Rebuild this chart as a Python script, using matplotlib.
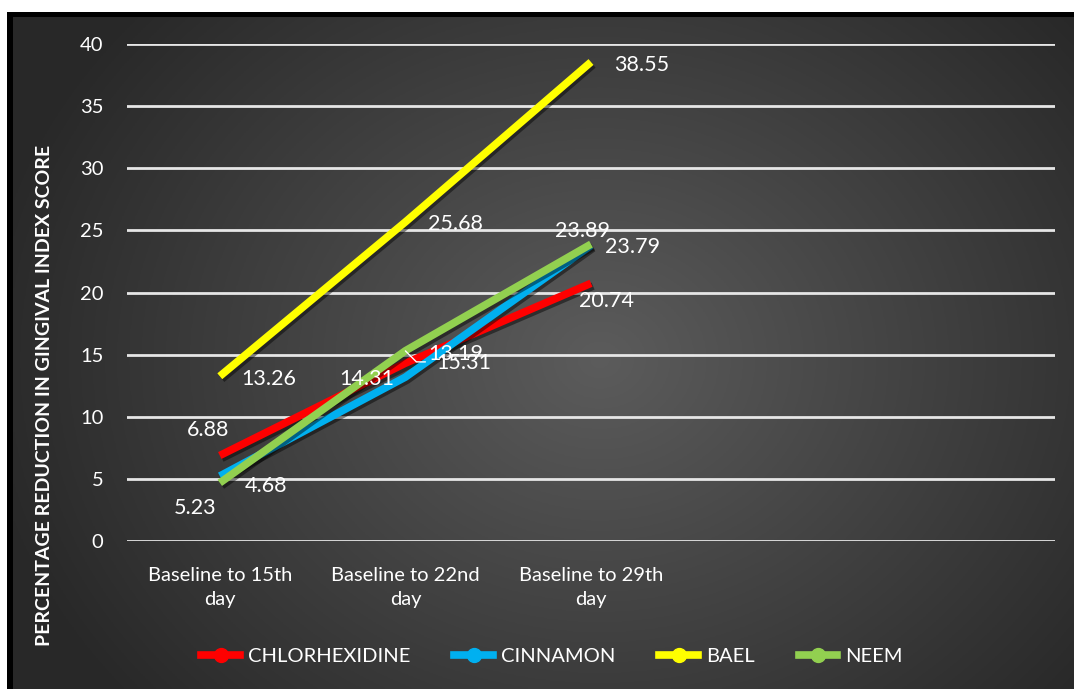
import numpy as np
import matplotlib.pyplot as plt
import matplotlib.patheffects as pe
from matplotlib.patches import Rectangle
from matplotlib.lines import Line2D

plt.rcParams['font.family'] = ['Lato', 'DejaVu Sans']

# --- data ---
categories = ['Baseline to 15th\nday', 'Baseline to 22nd\nday', 'Baseline to 29th\nday']
chlorhexidine = [6.88, 14.31, 20.74]
cinnamon = [5.23, 13.19, 23.79]
bael = [13.26, 25.68, 38.55]
neem = [4.68, 15.31, 23.89]

series = [
    ('CHLORHEXIDINE', chlorhexidine, '#ff0000'),
    ('CINNAMON', cinnamon, '#00b0f0'),
    ('BAEL', bael, '#ffff00'),
    ('NEEM', neem, '#92d050'),
]

# label offsets in pixels (dx right, dy up) per series / point
offsets = {
    'CHLORHEXIDINE': [(-12, 26), (-39, -16), (15, -18)],
    'CINNAMON': [(-25, -32), (50, 23), (42, -2)],
    'BAEL': [(49, -3), (50, -2), (51, -3)],
    'NEEM': [(46, -3), (58, -12), (-8, 13)],
}

W, H, DPI = 1074, 689, 100
fig = plt.figure(figsize=(W / DPI, H / DPI), dpi=DPI, facecolor='white')

# black frame + radial gradient background
fig.patches.append(Rectangle((7 / W, 0), 1, 1 - 12 / H, transform=fig.transFigure,
                             facecolor='black', edgecolor='none', zorder=-5))
bx0, by0, bx1, by1 = 13, 17, W, H
bg = fig.add_axes([bx0 / W, 0, (bx1 - bx0) / W, 1 - by0 / H], zorder=0)
gx, gy = np.meshgrid(np.linspace(bx0, bx1, 400), np.linspace(by0, by1, 260))
r = np.sqrt(((gx - 600) / 620) ** 2 + ((gy - 360) / 520) ** 2)
val = np.clip(0.36 - 0.20 * r, 0.16, 0.36)
bg.imshow(np.dstack([val, val, val]), aspect='auto', extent=[0, 1, 0, 1])
bg.set_axis_off()

ax = fig.add_axes([127 / W, 1 - 541 / H, 928 / W, (541 - 44) / H], zorder=1)
ax.patch.set_visible(False)
x = np.arange(len(categories))

px2pt = 72 / DPI
for name, vals, color in series:
    ax.plot(x, vals, color=color, lw=5.5, solid_capstyle='butt', solid_joinstyle='round',
            path_effects=[pe.SimpleLineShadow(offset=(1.5, -2), alpha=0.45, shadow_color='black'),
                          pe.Normal()], zorder=3)
    for i, v in enumerate(vals):
        dx, dy = offsets[name][i]
        ax.annotate(f'{v:.2f}', (x[i], v), xytext=(dx * px2pt, dy * px2pt),
                    textcoords='offset points', ha='center', va='center',
                    color='white', fontsize=15.5, zorder=5)

# leader line for 13.19
ax.annotate('', xy=(1, 15.3), xytext=(20 * px2pt, -11 * px2pt), textcoords='offset points',
            arrowprops=dict(arrowstyle='-', color='white', lw=1, shrinkA=0, shrinkB=0,
                            connectionstyle='angle,angleA=0,angleB=-45,rad=0'))

ax.set_xlim(-0.5, 4.5)
ax.set_ylim(0, 40)
ax.set_yticks(np.arange(0, 41, 5))
ax.set_xticks(x)
ax.set_xticklabels(categories, color='white', fontsize=14.5, linespacing=1.45)
ax.tick_params(axis='y', colors='white', labelsize=14.5, length=0, pad=17)
ax.tick_params(axis='x', length=0, pad=19)
ax.yaxis.grid(True, color='#e6e6e6', lw=2)
ax.set_axisbelow(True)
for s in ax.spines.values():
    s.set_visible(False)

fig.text(45 / W, 1 - 395 / H, 'PERCENTAGE REDUCTION IN GINGIVAL INDEX SCORE',
         rotation=90, ha='center', va='center', color='white', fontsize=14, fontweight='bold')

handles = [Line2D([0], [0], color=c, lw=5.5, marker='o', markersize=10,
                  markerfacecolor=c, markeredgecolor=c) for _, _, c in series]
fig.legend(handles, [n for n, _, _ in series], loc='center', bbox_to_anchor=(552 / W, 1 - 656 / H),
           ncol=4, frameon=False, fontsize=14.5, labelcolor='white', handlelength=1.9,
           handletextpad=0.4, columnspacing=2.2)

fig.savefig('out.png', dpi=DPI, facecolor='white')
